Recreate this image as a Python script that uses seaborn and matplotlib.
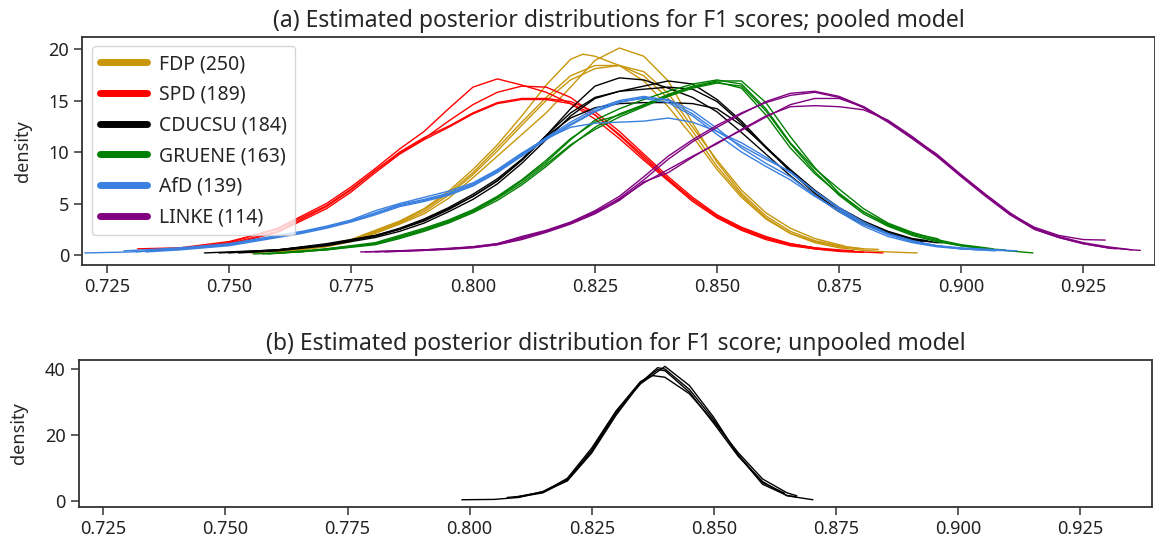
import matplotlib.pyplot as plt
from matplotlib.lines import Line2D
import pandas as pd
import seaborn as sns

parties = ["FDP", "SPD", "CDUCSU", "GRUENE", "AfD", "LINKE"]
counts = [250, 189, 184, 163, 139, 114]
party_colors = ["#c8960a", "#ff0000", "#000000", "#008000", "#3a80e0", "#800080"]

# posterior density curves, 4 chains per party
fdp_x = [
    [0.7545, 0.760, 0.770, 0.775, 0.780, 0.785, 0.790, 0.795, 0.800, 0.805, 0.810, 0.815, 0.820, 0.8225, 0.825, 0.830, 0.835, 0.840, 0.845, 0.850, 0.855, 0.860, 0.865, 0.870, 0.875, 0.880],
    [0.760, 0.770, 0.775, 0.780, 0.785, 0.790, 0.795, 0.800, 0.805, 0.810, 0.815, 0.820, 0.825, 0.830, 0.835, 0.840, 0.845, 0.850, 0.855, 0.860, 0.865, 0.870, 0.875, 0.880, 0.883],
    [0.758, 0.770, 0.775, 0.780, 0.785, 0.790, 0.795, 0.800, 0.805, 0.810, 0.815, 0.820, 0.825, 0.830, 0.835, 0.840, 0.845, 0.850, 0.855, 0.860, 0.865, 0.870, 0.875, 0.880, 0.885, 0.891],
    [0.762, 0.770, 0.775, 0.780, 0.785, 0.790, 0.795, 0.800, 0.805, 0.810, 0.815, 0.820, 0.825, 0.830, 0.835, 0.840, 0.845, 0.850, 0.855, 0.860, 0.865, 0.870, 0.875, 0.876],
]
fdp_y = [
    [0.2, 0.4, 0.9, 1.5, 2.4, 3.3, 4.5, 6.2, 8.3, 10.7, 13.5, 16.5, 19.0, 19.5, 19.3, 18.4, 16.9, 14.4, 11.5, 8.3, 5.6, 3.5, 2.1, 1.3, 0.8, 0.6],
    [0.3, 0.8, 1.3, 2.1, 3.0, 4.0, 5.5, 7.5, 9.6, 11.7, 13.8, 16.3, 18.9, 20.1, 19.3, 16.9, 12.8, 9.0, 6.0, 3.8, 2.3, 1.4, 0.9, 0.6, 0.55],
    [0.3, 0.9, 1.4, 2.3, 3.2, 4.4, 6.0, 8.0, 10.4, 12.9, 15.3, 17.4, 18.4, 18.4, 17.4, 15.2, 12.0, 8.6, 5.8, 3.6, 2.1, 1.2, 0.7, 0.45, 0.3, 0.2],
    [0.3, 0.85, 1.4, 2.2, 3.1, 4.2, 5.8, 7.8, 10.1, 12.6, 15.0, 17.0, 18.1, 18.4, 17.8, 15.7, 12.4, 9.2, 6.3, 4.1, 2.6, 1.6, 1.0, 0.9],
]

spd_x = [
    [0.7365, 0.740, 0.750, 0.760, 0.770, 0.775, 0.780, 0.785, 0.790, 0.795, 0.800, 0.805, 0.810, 0.815, 0.820, 0.825, 0.830, 0.835, 0.840, 0.845, 0.850, 0.855, 0.860, 0.865, 0.870, 0.8725],
    [0.7313, 0.740, 0.750, 0.760, 0.770, 0.775, 0.780, 0.785, 0.790, 0.795, 0.800, 0.805, 0.810, 0.815, 0.820, 0.825, 0.830, 0.835, 0.840, 0.845, 0.850, 0.855, 0.860, 0.865, 0.870, 0.875, 0.878],
    [0.735, 0.740, 0.750, 0.760, 0.770, 0.775, 0.780, 0.785, 0.790, 0.795, 0.800, 0.805, 0.810, 0.815, 0.820, 0.825, 0.830, 0.835, 0.840, 0.845, 0.850, 0.855, 0.860, 0.865, 0.870, 0.875, 0.884],
    [0.737, 0.740, 0.750, 0.760, 0.770, 0.775, 0.780, 0.785, 0.790, 0.795, 0.800, 0.805, 0.810, 0.815, 0.820, 0.825, 0.830, 0.835, 0.840, 0.845, 0.850, 0.855, 0.860, 0.865, 0.870, 0.875, 0.880],
]
spd_y = [
    [0.5, 0.6, 1.2, 2.6, 5.0, 6.6, 8.4, 10.3, 12.0, 14.2, 16.3, 17.1, 16.5, 15.8, 14.7, 13.2, 11.3, 9.2, 7.2, 5.2, 3.6, 2.4, 1.5, 0.9, 0.6, 0.5],
    [0.6, 0.7, 1.3, 2.5, 4.8, 6.4, 8.2, 9.9, 11.3, 13.0, 14.6, 15.8, 16.4, 16.3, 15.3, 13.6, 11.6, 9.4, 7.3, 5.4, 3.8, 2.6, 1.7, 1.1, 0.7, 0.5, 0.4],
    [0.5, 0.6, 1.1, 2.3, 4.7, 6.3, 8.2, 10.0, 11.4, 12.5, 13.8, 14.8, 15.2, 15.2, 14.9, 13.9, 12.0, 9.8, 7.6, 5.6, 3.9, 2.7, 1.8, 1.1, 0.7, 0.4, 0.2],
    [0.5, 0.55, 1.0, 2.2, 4.5, 6.1, 8.0, 9.8, 11.2, 12.4, 13.7, 14.7, 15.1, 15.1, 14.7, 13.6, 11.7, 9.6, 7.4, 5.4, 3.7, 2.5, 1.6, 1.0, 0.6, 0.35, 0.25],
]

cdu_x = [
    [0.748, 0.760, 0.770, 0.780, 0.785, 0.790, 0.795, 0.800, 0.805, 0.810, 0.815, 0.820, 0.825, 0.830, 0.835, 0.840, 0.845, 0.850, 0.855, 0.860, 0.865, 0.870, 0.875, 0.880, 0.885, 0.890, 0.895, 0.8962],
    [0.752, 0.760, 0.770, 0.780, 0.785, 0.790, 0.795, 0.800, 0.805, 0.810, 0.815, 0.820, 0.825, 0.830, 0.835, 0.840, 0.845, 0.850, 0.855, 0.860, 0.865, 0.870, 0.875, 0.880, 0.885, 0.890, 0.894],
    [0.745, 0.760, 0.770, 0.780, 0.785, 0.790, 0.795, 0.800, 0.805, 0.810, 0.815, 0.820, 0.825, 0.830, 0.835, 0.840, 0.845, 0.850, 0.855, 0.860, 0.865, 0.870, 0.875, 0.880, 0.885, 0.890, 0.892],
    [0.750, 0.760, 0.770, 0.780, 0.785, 0.790, 0.795, 0.800, 0.805, 0.810, 0.815, 0.820, 0.825, 0.830, 0.835, 0.840, 0.845, 0.850, 0.855, 0.860, 0.865, 0.870, 0.875, 0.880, 0.885, 0.890, 0.893],
]
cdu_y = [
    [0.2, 0.5, 1.1, 1.9, 2.5, 3.4, 4.5, 5.7, 7.2, 9.2, 11.6, 14.2, 16.4, 17.2, 17.0, 16.2, 15.3, 13.9, 11.9, 9.8, 7.7, 5.8, 4.2, 3.0, 2.1, 1.5, 1.2, 1.2],
    [0.2, 0.4, 0.9, 1.7, 2.3, 3.1, 4.2, 5.4, 6.9, 8.9, 11.2, 13.5, 15.2, 15.9, 16.4, 16.9, 16.6, 15.1, 13.0, 10.5, 8.1, 6.0, 4.3, 3.0, 2.1, 1.5, 1.3],
    [0.2, 0.5, 1.0, 1.9, 2.6, 3.5, 4.6, 5.9, 7.4, 9.3, 11.6, 13.8, 15.3, 15.9, 16.1, 16.3, 16.1, 14.9, 12.8, 10.4, 8.2, 6.2, 4.5, 3.2, 2.2, 1.5, 1.3],
    [0.2, 0.5, 1.0, 1.8, 2.5, 3.3, 4.4, 5.7, 7.2, 9.2, 11.5, 13.3, 14.3, 14.7, 14.8, 14.8, 14.7, 14.2, 12.6, 10.5, 8.3, 6.3, 4.6, 3.3, 2.3, 1.6, 1.4],
]

gru_x = [
    [0.755, 0.765, 0.770, 0.780, 0.785, 0.790, 0.795, 0.800, 0.805, 0.810, 0.815, 0.820, 0.825, 0.830, 0.835, 0.840, 0.845, 0.850, 0.855, 0.860, 0.865, 0.870, 0.875, 0.880, 0.885, 0.890, 0.895, 0.900, 0.905, 0.9065],
    [0.758, 0.770, 0.780, 0.785, 0.790, 0.795, 0.800, 0.805, 0.810, 0.815, 0.820, 0.825, 0.830, 0.835, 0.840, 0.845, 0.850, 0.855, 0.860, 0.865, 0.870, 0.875, 0.880, 0.885, 0.890, 0.895, 0.900, 0.905, 0.910, 0.9147],
    [0.760, 0.770, 0.780, 0.785, 0.790, 0.795, 0.800, 0.805, 0.810, 0.815, 0.820, 0.825, 0.830, 0.835, 0.840, 0.845, 0.850, 0.855, 0.860, 0.865, 0.870, 0.875, 0.880, 0.885, 0.890, 0.895, 0.8955],
    [0.757, 0.770, 0.780, 0.785, 0.790, 0.795, 0.800, 0.805, 0.810, 0.815, 0.820, 0.825, 0.830, 0.835, 0.840, 0.845, 0.850, 0.855, 0.860, 0.865, 0.870, 0.875, 0.880, 0.885, 0.890, 0.895, 0.900, 0.905, 0.909],
]
gru_y = [
    [0.1, 0.3, 0.6, 1.1, 1.8, 2.5, 3.3, 4.3, 5.6, 7.2, 9.0, 11.2, 13.1, 14.2, 15.1, 15.9, 16.6, 17.0, 16.6, 14.2, 10.9, 8.4, 6.4, 4.5, 3.1, 2.2, 1.5, 1.0, 0.7, 0.6],
    [0.1, 0.5, 1.0, 1.6, 2.3, 3.1, 4.1, 5.3, 6.8, 8.6, 10.6, 12.4, 13.7, 14.6, 15.6, 16.4, 16.9, 16.9, 14.8, 11.5, 8.5, 6.0, 4.2, 2.9, 2.0, 1.4, 0.9, 0.6, 0.4, 0.2],
    [0.2, 0.6, 1.2, 1.9, 2.6, 3.4, 4.4, 5.7, 7.3, 9.2, 11.3, 12.9, 13.6, 14.5, 15.5, 16.3, 16.8, 16.2, 13.6, 10.4, 7.9, 5.9, 4.2, 3.0, 2.1, 1.6, 1.5],
    [0.1, 0.5, 1.1, 1.7, 2.4, 3.2, 4.2, 5.5, 7.0, 8.8, 10.7, 12.2, 13.4, 14.4, 15.4, 16.2, 16.7, 16.4, 14.0, 10.8, 8.1, 5.8, 4.0, 2.8, 1.9, 1.3, 0.9, 0.6, 0.5],
]

afd_x = [
    [0.7205, 0.730, 0.740, 0.750, 0.760, 0.765, 0.770, 0.775, 0.780, 0.785, 0.790, 0.795, 0.800, 0.805, 0.810, 0.815, 0.820, 0.825, 0.830, 0.835, 0.840, 0.845, 0.850, 0.855, 0.860, 0.865, 0.870, 0.875, 0.880, 0.885, 0.890, 0.895, 0.900, 0.905, 0.910],
    [0.7285, 0.740, 0.750, 0.760, 0.765, 0.770, 0.775, 0.780, 0.785, 0.790, 0.795, 0.800, 0.805, 0.810, 0.815, 0.820, 0.825, 0.830, 0.835, 0.840, 0.845, 0.850, 0.855, 0.860, 0.865, 0.870, 0.875, 0.880, 0.885, 0.890, 0.895, 0.900, 0.904],
    [0.733, 0.740, 0.750, 0.760, 0.765, 0.770, 0.775, 0.780, 0.785, 0.790, 0.795, 0.800, 0.805, 0.810, 0.815, 0.820, 0.825, 0.830, 0.835, 0.840, 0.845, 0.850, 0.855, 0.860, 0.865, 0.870, 0.875, 0.880, 0.885, 0.890, 0.895, 0.900, 0.907],
    [0.731, 0.740, 0.750, 0.760, 0.765, 0.770, 0.775, 0.780, 0.785, 0.790, 0.795, 0.800, 0.805, 0.810, 0.815, 0.820, 0.825, 0.830, 0.835, 0.840, 0.845, 0.850, 0.855, 0.860, 0.865, 0.870, 0.875, 0.880, 0.885, 0.890, 0.895, 0.900, 0.9115],
]
afd_y = [
    [0.2, 0.3, 0.6, 1.0, 1.8, 2.2, 2.7, 3.3, 4.1, 4.9, 5.4, 6.0, 6.9, 8.2, 9.8, 11.4, 12.9, 14.2, 15.0, 15.4, 15.0, 13.7, 12.0, 10.6, 9.3, 8.1, 6.2, 4.5, 3.0, 2.0, 1.3, 0.9, 0.6, 0.5, 0.4],
    [0.4, 0.7, 1.1, 1.9, 2.3, 2.8, 3.4, 4.3, 5.0, 5.6, 6.2, 7.0, 8.3, 9.9, 11.3, 12.4, 12.8, 12.9, 13.0, 13.3, 12.9, 12.0, 10.9, 9.5, 8.0, 6.2, 4.6, 3.2, 2.1, 1.4, 0.9, 0.6, 0.5],
    [0.3, 0.5, 0.9, 1.7, 2.1, 2.6, 3.2, 3.9, 4.7, 5.2, 5.8, 6.7, 8.0, 9.6, 11.2, 12.6, 13.9, 14.8, 15.3, 15.1, 14.0, 12.3, 10.4, 8.9, 7.6, 5.8, 4.2, 2.8, 1.8, 1.2, 0.8, 0.6, 0.4],
    [0.3, 0.6, 1.0, 1.8, 2.2, 2.7, 3.3, 4.0, 4.8, 5.3, 5.9, 6.8, 8.1, 9.7, 11.3, 12.7, 14.0, 14.9, 15.2, 14.8, 13.5, 11.7, 10.0, 8.6, 7.3, 5.7, 4.3, 3.0, 2.0, 1.3, 0.9, 0.7, 0.4],
]

linke_x = [
    [0.777, 0.785, 0.790, 0.795, 0.800, 0.805, 0.810, 0.815, 0.820, 0.825, 0.830, 0.835, 0.840, 0.845, 0.850, 0.855, 0.860, 0.865, 0.870, 0.875, 0.880, 0.885, 0.890, 0.895, 0.900, 0.905, 0.910, 0.915, 0.920, 0.925, 0.930, 0.935, 0.9367],
    [0.780, 0.790, 0.795, 0.800, 0.805, 0.810, 0.815, 0.820, 0.825, 0.830, 0.835, 0.840, 0.845, 0.850, 0.855, 0.860, 0.865, 0.870, 0.875, 0.880, 0.885, 0.890, 0.895, 0.900, 0.905, 0.910, 0.915, 0.920, 0.925, 0.9295],
    [0.778, 0.790, 0.795, 0.800, 0.805, 0.810, 0.815, 0.820, 0.825, 0.830, 0.835, 0.840, 0.845, 0.850, 0.855, 0.860, 0.865, 0.870, 0.875, 0.880, 0.885, 0.890, 0.895, 0.900, 0.905, 0.910, 0.915, 0.920, 0.925, 0.930, 0.9317],
    [0.782, 0.790, 0.795, 0.800, 0.805, 0.810, 0.815, 0.820, 0.825, 0.830, 0.835, 0.840, 0.845, 0.850, 0.855, 0.860, 0.865, 0.870, 0.875, 0.880, 0.885, 0.890, 0.895, 0.900, 0.905, 0.910, 0.915, 0.920, 0.925, 0.930, 0.935],
]
linke_y = [
    [0.3, 0.4, 0.5, 0.65, 0.8, 1.1, 1.7, 2.3, 3.1, 4.1, 5.5, 7.3, 9.3, 11.0, 12.4, 13.7, 14.9, 15.7, 15.9, 15.4, 14.4, 13.0, 11.4, 9.8, 7.8, 5.9, 4.1, 2.6, 1.8, 1.2, 0.8, 0.5, 0.45],
    [0.3, 0.45, 0.6, 0.75, 1.0, 1.6, 2.3, 3.1, 4.2, 5.4, 7.0, 8.3, 9.6, 10.8, 12.2, 13.5, 14.4, 14.5, 14.4, 14.1, 13.1, 11.5, 9.7, 7.7, 5.8, 4.0, 2.7, 1.9, 1.5, 1.45],
    [0.3, 0.5, 0.6, 0.8, 1.1, 1.8, 2.4, 3.2, 4.3, 5.7, 7.6, 9.6, 11.2, 12.6, 13.8, 14.8, 15.5, 15.8, 15.3, 14.3, 12.9, 11.3, 9.6, 7.7, 5.8, 4.0, 2.5, 1.7, 1.1, 0.7, 0.6],
    [0.3, 0.45, 0.55, 0.7, 1.0, 1.5, 2.2, 3.0, 4.0, 5.3, 7.1, 8.0, 9.5, 10.9, 12.1, 13.4, 14.6, 15.2, 15.2, 14.4, 13.0, 11.3, 9.6, 7.6, 5.7, 3.9, 2.5, 1.7, 1.1, 0.7, 0.5],
]

# unpooled model, 4 chains
unpooled_x = [
    [0.7984, 0.805, 0.810, 0.815, 0.820, 0.825, 0.830, 0.835, 0.8385, 0.840, 0.845, 0.850, 0.855, 0.860, 0.865, 0.8703],
    [0.8077, 0.810, 0.815, 0.820, 0.825, 0.830, 0.835, 0.8385, 0.840, 0.845, 0.850, 0.855, 0.860, 0.8645],
    [0.809, 0.810, 0.815, 0.820, 0.825, 0.830, 0.835, 0.840, 0.845, 0.850, 0.855, 0.860, 0.865, 0.8669],
    [0.8095, 0.815, 0.820, 0.825, 0.830, 0.835, 0.8375, 0.840, 0.845, 0.850, 0.855, 0.860, 0.865, 0.867],
]
unpooled_y = [
    [0.3, 0.4, 1.0, 2.8, 6.5, 15.0, 26.5, 36.0, 39.8, 39.5, 33.0, 23.5, 13.5, 5.8, 1.5, 0.3],
    [1.0, 1.3, 2.7, 6.0, 14.5, 26.0, 35.8, 40.4, 40.0, 33.8, 24.6, 14.0, 5.5, 2.3],
    [1.0, 1.1, 2.4, 6.2, 15.4, 27.0, 35.5, 40.8, 35.0, 25.3, 13.8, 5.0, 1.6, 1.2],
    [1.1, 2.6, 6.8, 16.0, 27.3, 36.2, 38.0, 37.5, 32.5, 24.0, 14.6, 6.6, 2.4, 1.5],
]

pooled_x = [fdp_x, spd_x, cdu_x, gru_x, afd_x, linke_x]
pooled_y = [fdp_y, spd_y, cdu_y, gru_y, afd_y, linke_y]

rows = []
for party, xs_all, ys_all in zip(parties, pooled_x, pooled_y):
    for chain, (xs, ys) in enumerate(zip(xs_all, ys_all)):
        for order, (xv, yv) in enumerate(zip(xs, ys)):
            rows.append((party, chain, order, xv, yv))
pooled = pd.DataFrame(rows, columns=["party", "chain", "order", "f1", "density"])

rows = []
for chain, (xs, ys) in enumerate(zip(unpooled_x, unpooled_y)):
    for order, (xv, yv) in enumerate(zip(xs, ys)):
        rows.append((chain, order, xv, yv))
unpooled = pd.DataFrame(rows, columns=["chain", "order", "f1", "density"])

sns.set_style("ticks")
plt.rcParams["font.family"] = ["Noto Sans", "DejaVu Sans"]
plt.rcParams["axes.edgecolor"] = "#333333"
plt.rcParams["xtick.color"] = "#333333"
plt.rcParams["ytick.color"] = "#333333"
plt.rcParams["xtick.labelcolor"] = "#222222"
plt.rcParams["ytick.labelcolor"] = "#222222"

fig = plt.figure(figsize=(11.55, 5.49), dpi=100)
ax_a = fig.add_axes([0.0713, 0.5173, 0.9287, 0.4159])
ax_b = fig.add_axes([0.0684, 0.0770, 0.9288, 0.2672])

sns.lineplot(
    data=pooled, x="f1", y="density", hue="party", units="chain",
    estimator=None, sort=False, palette=dict(zip(parties, party_colors)),
    hue_order=parties, linewidth=1.0, legend=False, ax=ax_a
)
sns.lineplot(
    data=unpooled, x="f1", y="density", units="chain",
    estimator=None, sort=False, color="black",
    linewidth=1.0, legend=False, ax=ax_b
)

for ax in (ax_a, ax_b):
    ax.set_xlim(0.7200, 0.9397)
    ax.set_xticks([0.725, 0.75, 0.775, 0.8, 0.825, 0.85, 0.875, 0.9, 0.925])
    ax.set_xticklabels(["0.725", "0.750", "0.775", "0.800", "0.825", "0.850", "0.875", "0.900", "0.925"])
    ax.tick_params(labelsize=13, length=6, width=1.1)
    ax.set_xlabel("")
    ax.set_ylabel("density", fontsize=13, labelpad=12)
    for s in ax.spines.values():
        s.set_linewidth(1.3)

ax_a.set_ylim(-0.97, 21.2)
ax_a.set_yticks([0, 5, 10, 15, 20])
ax_b.set_ylim(-1.82, 42.73)
ax_b.set_yticks([0, 20, 40])

ax_a.set_title("(a) Estimated posterior distributions for F1 scores; pooled model", fontsize=16.5, pad=7)
ax_b.set_title("(b) Estimated posterior distribution for F1 score; unpooled model", fontsize=16.5, pad=7)

handles = [Line2D([], [], color=c, linewidth=5) for c in party_colors]
labels = [f"{p} ({n})" for p, n in zip(parties, counts)]
ax_a.legend(handles, labels, loc="upper left", fontsize=14, handlelength=2.45,
            handletextpad=0.6, labelspacing=0.55, framealpha=0.8, fancybox=True)

fig.savefig("out.png", dpi=100)
